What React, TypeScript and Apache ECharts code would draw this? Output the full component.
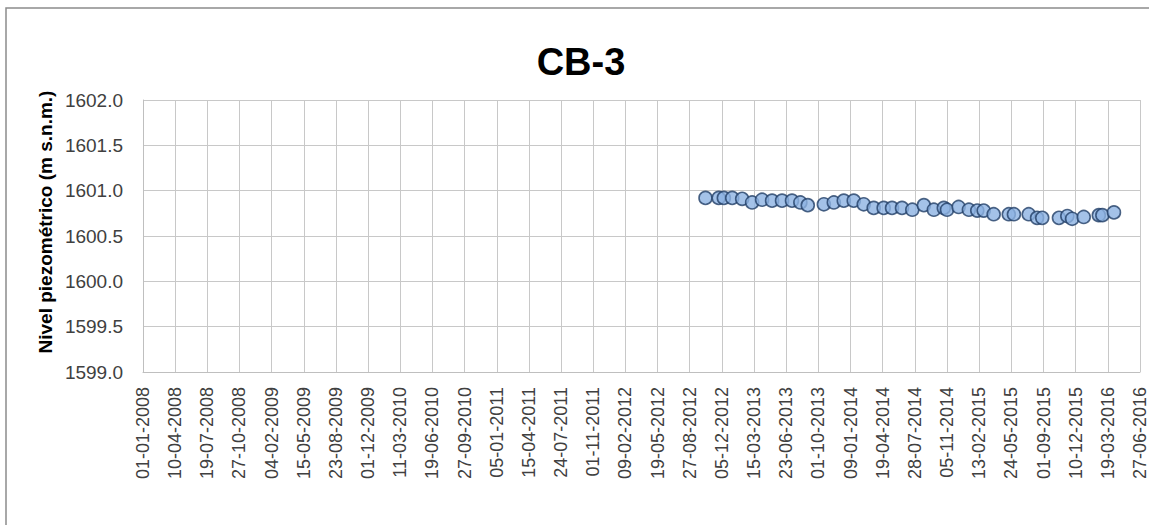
import React, { useEffect, useRef } from "react";
import * as echarts from "echarts";

const titleText = "CB-3";
const yAxisName = "Nivel piezométrico (m s.n.m.)";
const axisStartDate = "2008-01-01";
const axisDays = 3100;
const tickDays = 100;
const yMin = 1599.0;
const yMax = 1602.0;
const yStep = 0.5;

const sampleDates = [
  "2012-10-15", "2012-11-25", "2012-12-11", "2013-01-06", "2013-02-06", "2013-03-09",
  "2013-04-09", "2013-05-10", "2013-06-10", "2013-07-11", "2013-08-06", "2013-08-29",
  "2013-10-18", "2013-11-18", "2013-12-19", "2014-01-19", "2014-02-19", "2014-03-22",
  "2014-04-22", "2014-05-18", "2014-06-18", "2014-07-20", "2014-08-25", "2014-09-25",
  "2014-10-26", "2014-11-05", "2014-12-11", "2015-01-12", "2015-02-07", "2015-02-27",
  "2015-03-30", "2015-05-16", "2015-06-01", "2015-07-17", "2015-08-12", "2015-08-28",
  "2015-10-19", "2015-11-14", "2015-11-29", "2016-01-04", "2016-02-20", "2016-03-02",
  "2016-04-07",
];

const levels = [
  1600.92, 1600.92, 1600.92, 1600.92, 1600.91, 1600.87,
  1600.90, 1600.89, 1600.89, 1600.89, 1600.87, 1600.84,
  1600.85, 1600.87, 1600.89, 1600.89, 1600.85, 1600.81,
  1600.81, 1600.81, 1600.81, 1600.79, 1600.84, 1600.79,
  1600.81, 1600.79, 1600.82, 1600.79, 1600.78, 1600.78,
  1600.74, 1600.74, 1600.74, 1600.74, 1600.70, 1600.70,
  1600.70, 1600.72, 1600.69, 1600.71, 1600.73, 1600.73,
  1600.76,
];

const DAY = 86400000;
const baseMs = Date.parse(axisStartDate + "T00:00:00Z");
const toDay = (s: string) => (Date.parse(s + "T00:00:00Z") - baseMs) / DAY;
const fmtDay = (d: number) => {
  const dt = new Date(baseMs + Math.round(d) * DAY);
  const dd = String(dt.getUTCDate()).padStart(2, "0");
  const mm = String(dt.getUTCMonth() + 1).padStart(2, "0");
  return `${dd}-${mm}-${dt.getUTCFullYear()}`;
};

export default function App() {
  const ref = useRef<HTMLDivElement>(null);
  useEffect(() => {
    if (!ref.current) return;
    const chart = echarts.init(ref.current, null, { renderer: "svg" });
    const data = sampleDates.map((d, i) => [toDay(d), levels[i]]);
    chart.setOption({
      animation: false,
      backgroundColor: "#ffffff",
      title: {
        text: titleText,
        left: 576,
        top: 38,
        textAlign: "center",
        textStyle: {
          fontFamily: "Liberation Sans",
          fontWeight: "bold",
          fontSize: 38,
          color: "#000000",
        },
      },
      graphic: [
        {
          type: "rect",
          shape: { x: 6, y: 8, width: 1300, height: 700 },
          style: { fill: "none", stroke: "#8c8c8c", lineWidth: 1.5 },
          silent: true,
        },
        {
          type: "text",
          x: 45,
          y: 222,
          rotation: Math.PI / 2,
          style: {
            text: yAxisName,
            fontFamily: "Liberation Sans",
            fontWeight: "bold",
            fontSize: 19,
            fill: "#000000",
            align: "center",
            verticalAlign: "middle",
          },
        },
      ],
      grid: { left: 143, top: 100, width: 997, height: 272 },
      xAxis: {
        type: "value",
        min: 0,
        max: axisDays,
        interval: tickDays,
        axisLine: { show: true, lineStyle: { color: "#bfbfbf", width: 1 } },
        axisTick: { show: false },
        splitLine: { show: true, lineStyle: { color: "#c8c8c8", width: 1 } },
        axisLabel: {
          rotate: 90,
          margin: 15,
          fontFamily: "Liberation Sans",
          fontSize: 18,
          color: "#404040",
          formatter: (v: number) => fmtDay(v),
          showMinLabel: true,
          showMaxLabel: true,
        },
      },
      yAxis: {
        type: "value",
        min: yMin,
        max: yMax,
        interval: yStep,
        axisLine: { show: true, lineStyle: { color: "#bfbfbf", width: 1 } },
        axisTick: { show: false },
        splitLine: { show: true, lineStyle: { color: "#c8c8c8", width: 1 } },
        axisLabel: {
          margin: 20,
          fontFamily: "Liberation Sans",
          fontSize: 19,
          color: "#404040",
          formatter: (v: number) => v.toFixed(1),
        },
      },
      series: [
        {
          type: "scatter",
          data,
          symbol: "circle",
          symbolSize: 13,
          itemStyle: { color: "#8db3e2", borderColor: "#223f66", borderWidth: 1.6 },
        },
      ],
    });
    return () => chart.dispose();
  }, []);
  return (
    <div
      ref={ref}
      style={{ position: "fixed", left: 0, top: 0, width: 1149, height: 525 }}
    />
  );
}
